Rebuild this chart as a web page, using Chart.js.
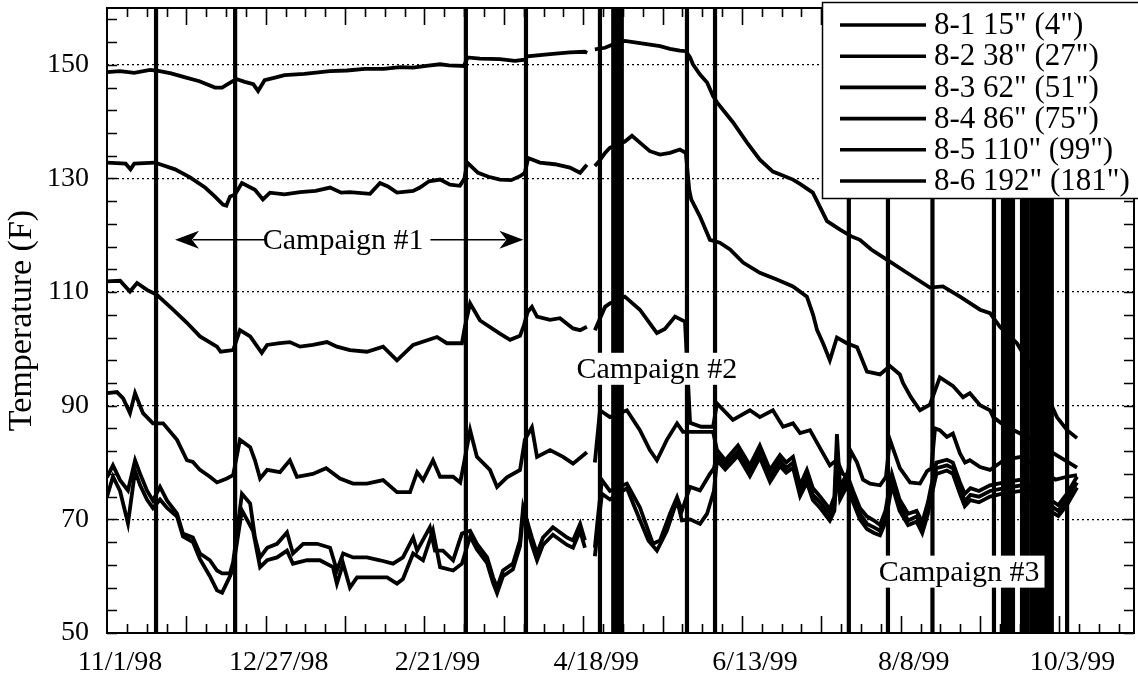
<!DOCTYPE html>
<html>
<head>
<meta charset="utf-8">
<script src="https://cdn.jsdelivr.net/npm/chart.js@4.4.1/dist/chart.umd.min.js"></script>
<style>
  html, body { margin: 0; padding: 0; background: #fff; }
  #wrap { width: 1138px; height: 683px; position: relative; }
</style>
</head>
<body>
<div id="wrap"><canvas id="myChart"></canvas></div>
<script>
// x values are days counted from 11/1/98
var tickDays = [0, 56, 112, 168, 224, 280, 336];
var tickLabels = ['11/1/98', '12/27/98', '2/21/99', '4/18/99', '6/13/99', '8/8/99', '10/3/99'];
var probeNames = ['8-1 15" (4")', '8-2 38" (27")', '8-3 62" (51")', '8-4 86" (75")', '8-5 110" (99")', '8-6 192" (181")'];

// [day, temperature F]; null = no record
var probe86 = [[-4.6,148.7],[0,148.9],[5,148.6],[10.6,149.1],[14,148.9],[18,148.5],[23,147.8],[28,147.1],[33.5,146],[36,146],[38,146.6],[41,147.5],[44,147],[47,146.6],[48.7,145.4],[51,147.3],[55,147.8],[58,148.2],[65,148.4],[74,148.9],[80,149],[86.4,149.3],[93,149.3],[98.8,149.6],[103.4,149.5],[108,149.8],[112.9,150.1],[116,149.9],[121.3,149.8],[122.6,151.3],[127,151.1],[134,151],[139.3,150.7],[142.8,150.9],[143.7,151.5],[151.7,151.9],[158.7,152.2],[164,152.3],[164.8,152.1],null,[167.5,152.7],[171.1,153],[174,153.6],[178.1,154.2],[183.4,153.8],[190.5,153.3],[194,152.8],[197.5,152.5],[199.6,152.4],[201.1,151.3],[202.1,150.1],[204.6,148.3],[207.1,146.9],[209.2,144.5],[210.6,143.4],[216.2,139.9],[221.2,136.3],[225.7,133.3],[230.3,131.2],[237.4,129.8],[240,129],[244.4,127.5],[249.4,122.5],[254,121],[258,119.8],[261,119.2],[265,117.5],[270.5,115.7],[277.6,113.4],[285.7,110.8],[290.3,111],[296.3,109.2],[303.4,106.9],[306.9,106.3],[310.4,103.9],[316.4,101],[319.9,98.1],[325,94],[330.5,88],[334.1,85.7],[337.6,84.3]];
var probe85 = [[-4.6,132.8],[2,132.6],[3.7,131.6],[5,132.6],[12.3,132.8],[19.4,131.6],[24.7,130.2],[30,128.4],[33.5,126.8],[36.3,125.4],[37.5,125.2],[38.8,126.8],[40.6,127.2],[43,129.2],[47.6,128],[50.4,126.3],[52.9,127.5],[58,127.2],[63.5,127.6],[69,127.8],[74.1,128.4],[78,127.5],[81.1,127.6],[88.2,127.3],[91.7,129.2],[94.5,128.6],[97.7,127.5],[103.4,127.8],[105.8,128.4],[109,129.5],[112.9,129.8],[116.4,128.9],[119.9,128.7],[121.5,130],[122.5,132.8],[126.3,131],[130,130.3],[134,129.8],[138,129.7],[141.1,130.4],[142.8,131],[144,133.6],[148.1,132.8],[153.4,132.5],[158.7,131.9],[162.3,131],[164.7,132.4],null,[167.5,132.2],[169,133],[171.1,134.5],[172.8,135.4],[178.1,136.5],[180.6,137.5],[183.4,136.3],[186.9,134.8],[190.5,134.2],[194,134.5],[197.5,135.1],[199.6,134.5],[200.8,128],[201.5,126.3],[204.6,123.3],[208.1,119.2],[211.6,118.7],[215.2,117.5],[219.8,115.2],[225.7,113.4],[231.7,112.2],[237.4,111],[242.3,109.2],[244.5,106],[245.9,103.3],[248,101],[250.4,98],[252.9,102],[256.4,101],[260,100.3],[263.5,96],[268.1,95.5],[271.6,97],[275.1,95.5],[276.2,94],[279,91.5],[282.2,89.2],[285.7,90.2],[289.2,95],[293.8,93.5],[297.4,91.5],[299.8,92.2],[303.4,90.1],[306.9,89.2],[308,88],[312,86.5],[316,85.5],[322,84],[328,82],[333,80.5],[337.6,79.1]];
var probe84 = [[-4.6,111.9],[0,112],[3.5,110.1],[6,111.6],[9.5,110.4],[13,109.5],[18.7,106.9],[23.6,104.6],[28.2,102.2],[34.2,100.4],[35.5,99.5],[39.9,99.8],[42.3,103.3],[45.9,102.2],[50,99.3],[51.9,100.7],[56.4,101],[59.9,101.2],[63.5,100.4],[68,100.7],[73,101.2],[76.5,100.4],[81.1,99.8],[87.1,99.5],[92.8,100.4],[97.7,98],[103.4,100.7],[111.8,102.1],[115.3,101],[120.6,101],[121.7,104],[123.5,108],[127,105],[134,102.7],[137.6,101.6],[141.1,102.3],[142.5,104.2],[143.8,106.5],[145.3,107.4],[147.1,105.7],[151.7,105.1],[155.2,105.4],[159.8,103.6],[162.3,103.3],[164.7,103.9],null,[167.5,103.3],[171.1,107.4],[172.8,108],[178.1,109.2],[183.4,106.9],[186.9,104.5],[189.4,102.8],[192.2,103.5],[195.8,105.7],[199.3,104.8],[201.1,87],[205,86.3],[209.2,86.3],[210.6,90.4],[216.2,87.5],[222.2,89.2],[225.7,88],[230.3,89.2],[233.9,86.3],[237.4,86.9],[239.9,85.2],[243.4,85.7],[247,82.5],[250.4,79.5],[252.9,80.5],[255,78],[256.6,77.5],[257.8,82],[260,80],[262.1,77],[264.6,76.3],[268.1,76],[270.2,77.5],[271.6,84],[275.1,79],[278.7,76.5],[282.2,76.3],[284.7,78.5],[286.2,79],[287.5,86],[289.2,85.7],[291.7,84.5],[293.8,85.1],[296.3,81.6],[298.1,80],[299.8,80.4],[303.4,79.2],[306.9,78.7],[312,80.5],[318,81],[324,79],[330,77],[334,77.5],[337.6,77.8]];
var probe83 = [[-4.6,92.2],[-1.1,92.4],[1.1,91.3],[3.5,88.7],[5.3,92.2],[8.1,88.7],[11.6,86.9],[15.2,86.9],[20.1,84],[23.6,80.4],[25.7,80.1],[28.2,78.7],[31.7,77.5],[34.2,76.5],[37.7,77.2],[39.9,77.8],[42.3,84],[45.9,82.7],[47.6,80.4],[49.4,77.2],[51.9,78.7],[56.4,78.3],[59.9,80.4],[62.4,77.5],[68,78],[72.7,79],[77.6,77.2],[82.2,76.3],[87.1,76.3],[92.8,76.9],[97.7,74.8],[102.3,74.8],[104.8,78.3],[106.9,76.9],[110.4,80.4],[112.9,77.5],[117.5,77.5],[120,76.5],[121.3,79.8],[123.5,85.7],[125.9,81],[130.5,78.7],[133,75.7],[136.5,77.4],[141.1,78.7],[142.8,84],[145.3,86.2],[147.1,81],[151.7,82.2],[156.3,81],[159.8,79.8],[164.7,81.8],null,[167.5,80],[169.3,89.2],[172.8,88],[178.8,89.2],[183.4,85.7],[186.9,82.2],[189.4,80.4],[192.9,84],[196.5,86.9],[198.6,85.4],[201.1,85.4],[209.2,85.4],[210.6,82.2],[213.5,80.4],[218,83],[222.2,79.5],[225.7,83],[229.3,78.7],[232.8,81.3],[235,80],[237.4,81],[239.9,76],[242.3,78.7],[244.4,75.5],[247,74],[250.4,71.8],[252,74],[252.9,85],[254,75.7],[256.4,78],[258.6,75],[261,72],[263.5,70.5],[266,69.8],[268.1,69],[270,71.5],[272.3,78],[275,73.5],[278,71],[281,71.5],[283,69.5],[285,73],[286.2,76],[288,80],[291.7,80.5],[293.8,80],[296.3,76.5],[298,74.5],[300,75.5],[303,75],[306.9,76],[312,76.5],[318,77],[322,75.5],[328,73.5],[331,72.5],[334,74.5],[337.6,77.5]];
var probe82 = [[-4.6,77.4],[-2.5,79.5],[0,76.9],[2.8,75.1],[5.3,80.4],[7.1,78],[9.5,75.1],[11.6,73.3],[14.1,75.7],[16.6,73.3],[20.1,71],[22.2,67.5],[25.7,66.8],[28.2,64],[31.7,62.8],[34.2,61],[36,60.5],[38.8,60.5],[39.9,62.5],[43,74.5],[45.9,72.8],[47.6,66.8],[49.4,63.3],[51.9,65],[55.4,65.7],[58.9,67.7],[61,64],[64.6,65.7],[69.5,65.7],[74.1,65],[76.5,61],[78.7,64],[82.2,63.3],[87.1,63.3],[91.7,62.8],[96.3,62.2],[99.8,63.3],[103.4,66.8],[104.8,64.5],[109.3,68.6],[111.1,64.5],[113.9,64.5],[117.5,62.8],[120.6,67.5],[123.5,68],[125.9,65.7],[129.5,63.3],[131.6,59.8],[133,58],[135.1,61],[138.6,62.2],[141.1,66.3],[142.2,72.1],[145.3,66.8],[147.1,64],[149.2,66.8],[152.7,68.6],[157.7,66.8],[159.8,66.3],[162.3,69.2],[164,66.3],null,[167.5,65],[168.5,70],[170,76.9],[172.8,75],[178.8,76.3],[183.4,72.1],[188,65.7],[190.5,66.3],[194,71],[196.5,73.9],[198.2,71.5],[201.1,75.7],[204.6,75.1],[208.1,78],[209.5,79],[210.6,81.2],[213.5,79.6],[218,82],[222.2,78.5],[225.7,81.8],[229.3,77.5],[232.8,80.3],[235,79],[237.4,80],[239.9,75],[242.3,77.5],[244.4,74.3],[247,73],[250.4,70.8],[252,72.5],[252.9,82],[254,74.5],[256.4,76.8],[258.6,74],[261,71],[263.5,69.2],[266,68.6],[268.1,68],[270,70.5],[272.3,77],[275,72.5],[278,69.8],[281,70.5],[283,68.5],[285,72],[286.2,75],[288,79],[291.7,79.5],[293.8,79],[296.3,75.5],[298,73.2],[300,74.3],[303,74],[306.9,75],[312,75.5],[318,76],[322,74.5],[328,72.5],[331,71.5],[334,73.5],[337.6,76.5]];
var probe81 = [[-4.6,74],[-2.5,77.5],[0,75],[2.8,69.3],[5.3,78.5],[7.1,76],[9.5,73.5],[11.6,72],[14.1,73.5],[16.6,72],[20.1,70.5],[22.2,67],[25.7,66],[28.2,63],[31.7,60],[34.2,57.5],[36,57.1],[38.8,60],[39.9,61.5],[43,71.6],[46.9,68],[49.4,61.6],[51.9,62.8],[55.4,63.3],[58.9,64.5],[61,62.2],[66,62.8],[70.5,62.8],[75.1,61.6],[76.5,58.7],[78.7,62.2],[81.1,58],[83.6,59.8],[89.2,59.8],[94.2,59.8],[97.7,58.7],[99.8,59.5],[103.4,64],[106.9,62.8],[110.4,68],[112.9,61.6],[117.5,61],[120.6,62.2],[123.5,67],[125.9,64.7],[129.5,62.3],[131.6,58.8],[133,57],[135.1,60],[138.6,61.2],[141.1,65.3],[142.2,71],[145.3,65.5],[147.1,62.8],[149.2,65.5],[152.7,67.3],[157.7,65.5],[159.8,65],[162.3,68],[164,65],null,[167.5,63.5],[168.5,68],[170,74.5],[172.8,73.5],[178.8,75.5],[181,72.8],[186.4,66.3],[189.4,64.5],[192.9,68],[196.5,73.4],[198.2,69.8],[201.1,70],[204.6,69.2],[207.1,71],[209.5,75],[210.6,80.4],[213.5,78.8],[218,81.2],[222.2,77.6],[225.7,80.9],[229.3,76.6],[232.8,79.4],[235,78.2],[237.4,79.1],[239.9,74.1],[242.3,76.5],[244.4,73.4],[247,72],[250.4,69.8],[252,71.5],[252.9,79],[254,73.5],[256.4,75.8],[258.6,73],[261,70],[263.5,68.3],[266,67.6],[268.1,67.2],[270,69.5],[272.3,76],[275,71.5],[278,69],[281,69.6],[283,67.6],[285,71],[286.2,74],[288,78],[291.7,78.6],[293.8,78],[296.3,74.5],[298,72.3],[300,73.4],[303,73],[306.9,74],[312,74.6],[318,75],[322,73.6],[328,71.5],[331,70.6],[334,72.5],[337.6,75.6]];

// recorder dropouts: [first day, last day], every trace runs off scale here
var dropouts = [[12.7,12.7],[40.6,40.6],[122,122],[143.2,143.2],[169.3,169.3],[174,177.4],[200,200],[209.9,209.9],[257.1,257.1],[270.9,270.9],[286.6,286.6],[308.3,308.3],[311.5,315],[318.2,320.6],[321.7,328.7],[334.1,334.1]];

var campaigns = [
  { text: 'Campaign #1', day: 78.7, temp: 119.2, from: [51, 19.4], to: [109.5, 142.3], box: false },
  { text: 'Campaign #2', day: 189.4, temp: 96.5, box: true },
  { text: 'Campaign #3', day: 296, temp: 60.8, box: true }
];

var FONT = "'Liberation Serif', 'Times New Roman', serif";

function toPoints(rows) {
  var pts = [];
  rows.forEach(function (r, i) {
    if (r) pts.push({ x: r[0], y: r[1] });
    else pts.push({ x: rows[i - 1][0], y: null });
  });
  return pts;
}

function dropoutPoints() {
  var pts = [];
  dropouts.forEach(function (d) {
    for (var day = d[0]; day <= d[1] + 0.01; day += 0.5) {
      pts.push({ x: day, y: 40 }, { x: day, y: 170 }, { x: day, y: null });
    }
  });
  return pts;
}

var probes = [probe81, probe82, probe83, probe84, probe85, probe86];
var datasets = probes.map(function (p, i) {
  return {
    label: probeNames[i],
    data: toPoints(p),
    borderColor: '#000',
    borderWidth: 3.8,
    pointRadius: 0,
    tension: 0,
    spanGaps: false,
    fill: false
  };
});
datasets.push({
  label: 'dropouts',
  data: dropoutPoints(),
  borderColor: '#000',
  borderWidth: 4.2,
  pointRadius: 0,
  spanGaps: false,
  fill: false
});

function arrowHead(ctx, x, y, dir) {
  ctx.beginPath();
  ctx.moveTo(x, y);
  ctx.lineTo(x - dir * 24, y - 9);
  ctx.lineTo(x - dir * 17, y);
  ctx.lineTo(x - dir * 24, y + 9);
  ctx.closePath();
  ctx.fill();
}

var decorations = {
  id: 'decorations',
  afterDatasetsDraw: function (chart) {
    var ctx = chart.ctx, a = chart.chartArea;
    var xs = chart.scales.x, ys = chart.scales.y;
    ctx.save();
    ctx.strokeStyle = '#000';
    ctx.fillStyle = '#000';

    // inward ticks, y on both sides
    ctx.lineWidth = 1.6;
    ys.ticks.forEach(function (t) {
      var py = Math.round(ys.getPixelForValue(t.value)) + 0.5;
      ctx.beginPath();
      ctx.moveTo(a.left, py); ctx.lineTo(a.left + 10, py);
      ctx.moveTo(a.right, py); ctx.lineTo(a.right - 10, py);
      ctx.stroke();
    });
    // weekly ticks along top and bottom, longer every fourth week
    for (var k = 1; xs.min + 7 * k < xs.max; k++) {
      var px = Math.round(xs.getPixelForValue(xs.min + 7 * k)) + 0.5;
      var len = (k % 4 === 0) ? 17 : 9;
      ctx.beginPath();
      ctx.moveTo(px, a.bottom); ctx.lineTo(px, a.bottom - len);
      ctx.moveTo(px, a.top); ctx.lineTo(px, a.top + len);
      ctx.stroke();
    }
    ctx.lineWidth = 2;
    ctx.strokeRect(a.left, a.top, a.right - a.left, a.bottom - a.top);

    // campaign labels
    ctx.font = '30px ' + FONT;
    ctx.textAlign = 'center';
    ctx.textBaseline = 'middle';
    campaigns.forEach(function (c) {
      var cx = xs.getPixelForValue(c.day), cy = ys.getPixelForValue(c.temp);
      var w = ctx.measureText(c.text).width;
      if (c.box) {
        ctx.fillStyle = '#fff';
        ctx.fillRect(cx - w / 2 - 5, cy - 16, w + 10, 32);
      }
      ctx.fillStyle = '#000';
      ctx.fillText(c.text, cx, cy + 1);
      if (c.from) {
        ctx.lineWidth = 1.5;
        var l0 = xs.getPixelForValue(c.from[0]), l1 = xs.getPixelForValue(c.from[1]);
        var r0 = xs.getPixelForValue(c.to[0]), r1 = xs.getPixelForValue(c.to[1]);
        ctx.beginPath();
        ctx.moveTo(l0, cy); ctx.lineTo(l1 + 18, cy);
        ctx.moveTo(r0, cy); ctx.lineTo(r1 - 18, cy);
        ctx.stroke();
        arrowHead(ctx, l1, cy, -1);
        arrowHead(ctx, r1, cy, 1);
      }
    });

    // legend box in the upper right corner
    var bx = 822, by = 2, bw = 330, bh = 196;
    ctx.fillStyle = '#fff';
    ctx.fillRect(bx, by, bw, bh);
    ctx.lineWidth = 1.5;
    ctx.strokeRect(bx + 0.5, by + 0.5, bw, bh);
    ctx.textAlign = 'left';
    ctx.font = '31px ' + FONT;
    chart.data.datasets.forEach(function (ds, i) {
      if (i >= probeNames.length) return;
      var ry = by + 23 + i * 31.2;
      ctx.strokeStyle = '#000';
      ctx.lineWidth = 3.6;
      ctx.beginPath();
      ctx.moveTo(840, ry); ctx.lineTo(926, ry);
      ctx.stroke();
      ctx.fillStyle = '#000';
      ctx.fillText(ds.label, 934, ry + 1);
    });
    ctx.restore();
  }
};

new Chart(document.getElementById('myChart'), {
  type: 'line',
  data: { datasets: datasets },
  plugins: [decorations],
  options: {
    responsive: true,
    maintainAspectRatio: false,
    animation: false,
    events: [],
    layout: { padding: { top: 8, right: 4, left: 0, bottom: 0 } },
    plugins: { legend: { display: false }, tooltip: { enabled: false } },
    scales: {
      x: {
        type: 'linear',
        min: -4.6,
        max: 357.7,
        afterBuildTicks: function (scale) {
          scale.ticks = tickDays.map(function (d) { return { value: d }; });
        },
        afterFit: function (scale) {
          scale.height = 50;
          scale.paddingLeft = 0;
          scale.paddingRight = 0;
        },
        grid: { display: false, drawTicks: false },
        border: { display: false },
        ticks: {
          autoSkip: false,
          maxRotation: 0,
          padding: 13,
          color: '#000',
          font: { family: FONT, size: 28 },
          callback: function (v) {
            var i = tickDays.indexOf(v);
            return i >= 0 ? tickLabels[i] : '';
          }
        }
      },
      y: {
        min: 50,
        max: 160,
        afterBuildTicks: function (scale) {
          var t = [];
          for (var v = 50; v <= 158; v += 4) t.push({ value: v });
          scale.ticks = t;
        },
        afterFit: function (scale) {
          scale.width = 107;
          scale.paddingTop = 0;
          scale.paddingBottom = 0;
        },
        grid: {
          drawTicks: false,
          lineWidth: 1.2,
          color: function (c) {
            var v = c.tick ? c.tick.value : 0;
            return (v > 50 && (v - 50) % 20 === 0) ? '#000' : 'rgba(0,0,0,0)';
          }
        },
        border: { display: false, dash: [2, 3] },
        title: {
          display: true,
          text: 'Temperature (F)',
          color: '#000',
          font: { family: FONT, size: 34 },
          padding: { top: 2, bottom: 0 }
        },
        ticks: {
          autoSkip: false,
          padding: 18,
          color: '#000',
          font: { family: FONT, size: 28 },
          callback: function (v) { return (v - 50) % 20 === 0 ? String(v) : ''; }
        }
      }
    }
  }
});
</script>
</body>
</html>
